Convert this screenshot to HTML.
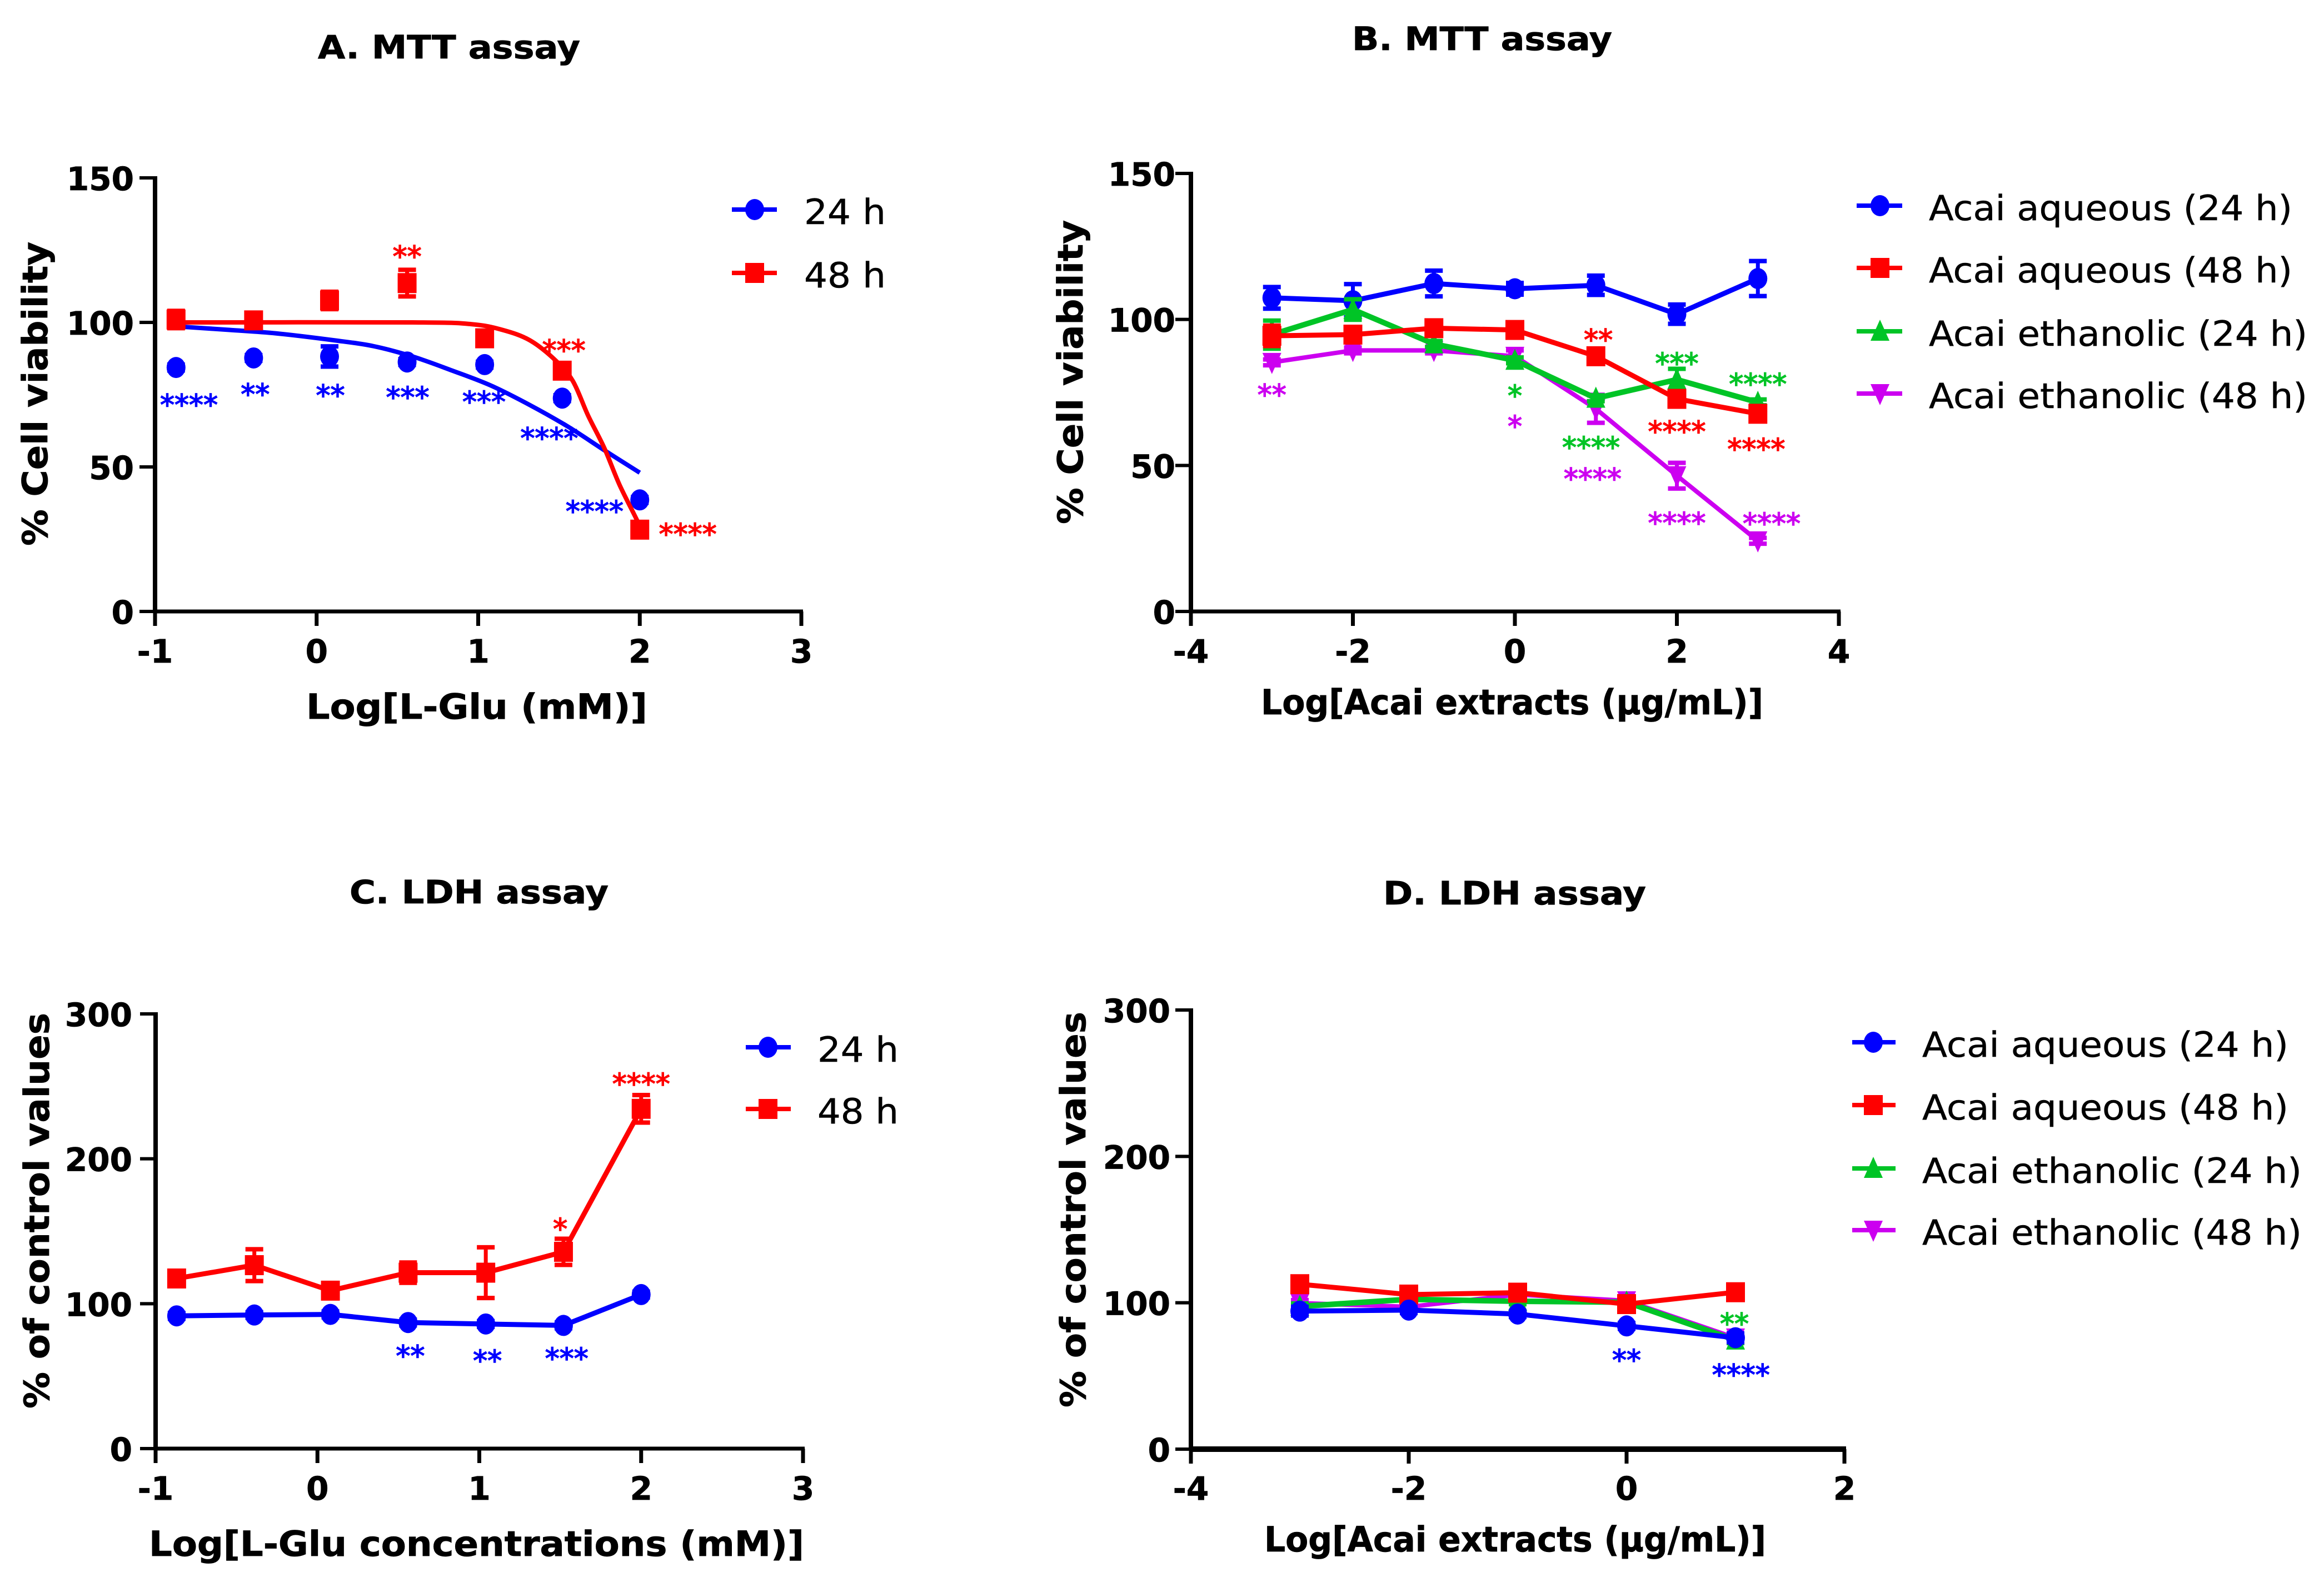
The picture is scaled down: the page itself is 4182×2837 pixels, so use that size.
<!DOCTYPE html>
<html lang="en">
<head>
<meta charset="utf-8">
<title>MTT and LDH assay charts</title>
<style>
html,body{margin:0;padding:0;background:#fff;}
svg{display:block;}
text{font-family:"DejaVu Sans","Liberation Sans",sans-serif;fill:#000;}
.b{font-weight:700;stroke:#000;stroke-width:0.8px;}
</style>
</head>
<body>
<svg id="figure" xmlns="http://www.w3.org/2000/svg" width="4182" height="2837" viewBox="0 0 4182 2837">
  <rect x="0" y="0" width="4182" height="2837" fill="#fff"/>
  <text class="b" x="572" y="105" font-size="58" textLength="472" lengthAdjust="spacingAndGlyphs">A. MTT assay</text>
  <text class="b" x="2433" y="90" font-size="58" textLength="468" lengthAdjust="spacingAndGlyphs">B. MTT assay</text>
  <text class="b" x="629" y="1625" font-size="58" textLength="466" lengthAdjust="spacingAndGlyphs">C. LDH assay</text>
  <text class="b" x="2489" y="1627" font-size="58" textLength="473" lengthAdjust="spacingAndGlyphs">D. LDH assay</text>

  <text class="b" transform="translate(85 982) rotate(-90)" font-size="62" textLength="547" lengthAdjust="spacingAndGlyphs">% Cell viability</text>
  <text class="b" transform="translate(1948 943) rotate(-90)" font-size="62" textLength="547" lengthAdjust="spacingAndGlyphs">% Cell viability</text>
  <text class="b" transform="translate(88 2534) rotate(-90)" font-size="62" textLength="712" lengthAdjust="spacingAndGlyphs">% of control values</text>
  <text class="b" transform="translate(1953 2532) rotate(-90)" font-size="62" textLength="712" lengthAdjust="spacingAndGlyphs">% of control values</text>

  <text class="b" x="551" y="1293" font-size="62" textLength="614" lengthAdjust="spacingAndGlyphs">Log[L-Glu (mM)]</text>
  <text class="b" x="2269" y="1285" font-size="62" textLength="904" lengthAdjust="spacingAndGlyphs">Log[Acai extracts (µg/mL)]</text>
  <text class="b" x="268" y="2799" font-size="62" textLength="1179" lengthAdjust="spacingAndGlyphs">Log[L-Glu concentrations (mM)]</text>
  <text class="b" x="2275" y="2791" font-size="62" textLength="903" lengthAdjust="spacingAndGlyphs">Log[Acai extracts (µg/mL)]</text>
</svg>
<script>
/* ---------- Panel A data ---------- */
const gluDosesA = [-0.87, -0.39, 0.08, 0.56, 1.04, 1.52, 2.0];
const viabilityA24 = [84.4, 87.7, 88.2, 86.3, 85.4, 73.8, 38.6];
const viabilityA24Err = [1, 1, 3.5, 1, 1, 1, 1];
const viabilityA48 = [101, 100.7, 107.6, 113.6, 94.5, 83.3, 28.3];
const viabilityA48Err = [3, 1, 3, 4.6, 2, 2, 1];
const fitA24X = [-0.862, -0.54, -0.25, 0.11, 0.35, 0.594, 0.836, 1.077, 1.32, 1.56, 1.78, 2.0];
const fitA24Y = [98.6, 97.4, 96.2, 93.8, 91.8, 88.2, 83.4, 78.2, 71.4, 63.8, 55.8, 48];
const fitA48X = [-0.862, 0.594, 0.956, 1.15, 1.32, 1.476, 1.585, 1.68, 1.78, 1.874, 1.98, 2.0];
const fitA48Y = [100, 100, 99.4, 97.4, 93.8, 87, 79.8, 67.8, 56.6, 43.9, 31.9, 29];
const starsAText = ['****', '**', '**', '***', '***', '****', '****', '**', '***', '****'];
const starsAX = [-0.79, -0.38, 0.085, 0.563, 1.036, 1.44, 1.72, 0.56, 1.53, 2.297];
const starsAY = [73.4, 77, 76.6, 76, 74.4, 61.8, 36.5, 124.7, 92.2, 28.7];
const starsASeries = ['aq24', 'aq24', 'aq24', 'aq24', 'aq24', 'aq24', 'aq24', 'aq48', 'aq48', 'aq48'];

/* ---------- Panel B data ---------- */
const acaiDosesB = [-3, -2, -1, 0, 1, 2, 3];
const viabilityBAq24 = [107.4, 106.4, 112.3, 110.5, 111.7, 101.8, 114];
const viabilityBAq24Err = [3.7, 5.7, 4.4, 2, 3.3, 3.3, 6];
const viabilityBAq48 = [94.4, 94.8, 97, 96.4, 87.4, 72.8, 67.7];
const viabilityBAq48Err = [3.5, 2.5, 1, 2, 1, 1, 1];
const viabilityBEt24 = [94.8, 103.4, 91.6, 86, 73, 79.4, 71.6];
const viabilityBEt24Err = [4.8, 3.5, 1, 1, 1, 3.7, 1];
const viabilityBEt48 = [85.3, 89.4, 89.4, 87.4, 69.4, 46.5, 24.2];
const viabilityBEt48Err = [1, 1, 1, 2, 4.8, 4.4, 1];
const starsBText = ['**', '*', '*', '**', '***', '****', '****', '****', '****', '****', '****', '****'];
const starsBX = [-3, 0, 0, 1.03, 2, 3, 0.94, 0.96, 2, 2.98, 2, 3.17];
const starsBY = [76, 75.8, 65.3, 94.9, 86.8, 79.8, 58.1, 47.3, 63.5, 57.5, 32.2, 32];
const starsBSeries = ['et48', 'et24', 'et48', 'aq48', 'et24', 'et24', 'et24', 'et48', 'aq48', 'aq48', 'et48', 'et48'];

/* ---------- Panel C data ---------- */
const gluDosesC = [-0.87, -0.39, 0.08, 0.56, 1.04, 1.52, 2.0];
const ldhC24 = [91.6, 92.2, 92.6, 87, 86, 85, 106.3];
const ldhC24Err = [2, 2, 2, 2, 2, 2, 2];
const ldhC48 = [117.4, 126.6, 109, 121.4, 121.4, 135.8, 234.5];
const ldhC48Err = [3, 11, 3, 7, 17.5, 9, 9.5];
const starsCText = ['**', '**', '***', '*', '****'];
const starsCX = [0.574, 1.05, 1.54, 1.5, 2];
const starsCY = [67.7, 64.4, 66, 155.4, 255.5];
const starsCSeries = ['aq24', 'aq24', 'aq24', 'aq48', 'aq48'];

/* ---------- Panel D data ---------- */
const acaiDosesD = [-3, -2, -1, 0, 1];
const ldhDAq24 = [94.3, 95, 92.3, 84.2, 76.1];
const ldhDAq24Err = [3, 2, 2, 2, 3];
const ldhDAq48 = [112.7, 105.6, 106.9, 99.1, 107.2];
const ldhDAq48Err = [3, 3, 3, 3, 3];
const ldhDEt24 = [97.5, 102.4, 101, 100.4, 74.5];
const ldhDEt24Err = [2, 2, 2, 2, 2];
const ldhDEt48 = [99.8, 97.2, 105.6, 101.4, 76];
const ldhDEt48Err = [2, 2, 2, 2, 2];
const starsDText = ['**', '**', '****'];
const starsDX = [0.99, 0, 1.05];
const starsDY = [89.4, 64.5, 54.4];
const starsDSeries = ['et24', 'aq24', 'aq24'];

/* ---------- Axis ticks and legends ---------- */
const ticksXGlu = [-1, 0, 1, 2, 3];
const ticksXAcaiB = [-4, -2, 0, 2, 4];
const ticksXAcaiD = [-4, -2, 0, 2];
const ticksYViability = [0, 50, 100, 150];
const ticksYLdh = [0, 100, 200, 300];
const legendTime = ['24 h', '48 h'];
const legendExtract = ['Acai aqueous (24 h)', 'Acai aqueous (48 h)', 'Acai ethanolic (24 h)', 'Acai ethanolic (48 h)'];

const SVGNS = 'http://www.w3.org/2000/svg';
const root = document.getElementById('figure');
const COLORS = { aq24: '#0000ff', aq48: '#ff0000', et24: '#00c426', et48: '#cc00f0' };
const SHAPES = { aq24: 'circle', aq48: 'square', et24: 'up', et48: 'down' };

function shape(tag, attrs, name, parent) {
  const node = document.createElementNS(SVGNS, tag);
  for (const key in attrs) node.setAttribute(key, attrs[key]);
  
  
  (parent || root).appendChild(node);
  return node;
}

function group(name) {
  return shape('g', {}, name);
}

function makePanel(id, x0, x1, dx0, dx1, y0, y1, dy1, labelRight, xLabelBase, xAxisWidth) {
  return {
    id: id, x0: x0, x1: x1, y0: y0, y1: y1, labelRight: labelRight, xLabelBase: xLabelBase,
    xAxisWidth: xAxisWidth,
    sx: function (v) { return x0 + (v - dx0) / (dx1 - dx0) * (x1 - x0); },
    sy: function (v) { return y0 - v / dy1 * (y0 - y1); }
  };
}

function drawAxes(p, xTicks, yTicks) {
  const g = group('panel-' + p.id + '-axes');
  shape('line', { x1: p.x0, x2: p.x0, y1: p.y1 - 3, y2: p.y0 + 3, stroke: '#000', 'stroke-width': 8 }, 'panel-' + p.id + '-y-axis', g);
  shape('line', { x1: p.x0 - 3, x2: p.x1 + 3, y1: p.y0, y2: p.y0, stroke: '#000', 'stroke-width': p.xAxisWidth }, 'panel-' + p.id + '-x-axis', g);
  xTicks.forEach(function (t) {
    const x = p.sx(t);
    shape('line', { x1: x, x2: x, y1: p.y0, y2: p.y0 + 26, stroke: '#000', 'stroke-width': 7 }, 'panel-' + p.id + '-x-tick', g);
    const label = shape('text', { x: x, y: p.xLabelBase, 'font-size': 58, 'text-anchor': 'middle', class: 'b' }, 'panel-' + p.id + '-x-tick-label', g);
    label.textContent = String(t);
  });
  yTicks.forEach(function (t) {
    const y = p.sy(t);
    shape('line', { x1: p.x0 - 28, x2: p.x0, y1: y, y2: y, stroke: '#000', 'stroke-width': 6 }, 'panel-' + p.id + '-y-tick', g);
    const label = shape('text', { x: p.labelRight, y: y + 22, 'font-size': 58, 'text-anchor': 'end', class: 'b' }, 'panel-' + p.id + '-y-tick-label', g);
    label.textContent = String(t);
  });
}

function marker(kind, x, y, color, name, parent) {
  const r = 17;
  if (kind === 'circle') {
    shape('ellipse', { cx: x, cy: y, rx: r, ry: r + 2, fill: color }, name, parent);
  } else if (kind === 'square') {
    shape('rect', { x: x - r, y: y - r - 1, width: 2 * r, height: 2 * r + 2, fill: color }, name, parent);
  } else if (kind === 'up') {
    shape('polygon', { points: (x - r) + ',' + (y + r) + ' ' + (x + r) + ',' + (y + r) + ' ' + x + ',' + (y - r - 4), fill: color }, name, parent);
  } else {
    shape('polygon', { points: (x - r) + ',' + (y - r) + ' ' + (x + r) + ',' + (y - r) + ' ' + x + ',' + (y + r + 4), fill: color }, name, parent);
  }
}

function drawSeries(p, key, xs, ys, errs, connect, width) {
  const color = COLORS[key];
  const base = 'panel-' + p.id + '-' + key;
  const g = group(base + '-series');
  if (connect) {
    const pts = xs.map(function (x, i) { return p.sx(x) + ',' + p.sy(ys[i]); }).join(' ');
    shape('polyline', { points: pts, fill: 'none', stroke: color, 'stroke-width': width, 'stroke-linejoin': 'round' }, base + '-line', g);
  }
  xs.forEach(function (x, i) {
    const px = p.sx(x);
    const top = p.sy(ys[i] + errs[i]);
    const bottom = p.sy(ys[i] - errs[i]);
    shape('line', { x1: px, x2: px, y1: top, y2: bottom, stroke: color, 'stroke-width': 7 }, base + '-error-bar', g);
    shape('line', { x1: px - 16, x2: px + 16, y1: top, y2: top, stroke: color, 'stroke-width': 8 }, base + '-error-cap', g);
    shape('line', { x1: px - 16, x2: px + 16, y1: bottom, y2: bottom, stroke: color, 'stroke-width': 8 }, base + '-error-cap', g);
    marker(SHAPES[key], px, p.sy(ys[i]), color, base + '-point', g);
  });
}

function drawFit(p, key, xs, ys) {
  const px = xs.map(p.sx);
  const py = ys.map(p.sy);
  let d = 'M' + px[0] + ' ' + py[0];
  for (let i = 0; i < px.length - 1; i++) {
    const a = Math.max(i - 1, 0);
    const b = Math.min(i + 2, px.length - 1);
    d += ' C' + (px[i] + (px[i + 1] - px[a]) / 6) + ' ' + (py[i] + (py[i + 1] - py[a]) / 6) + ' ' +
      (px[i + 1] - (px[b] - px[i]) / 6) + ' ' + (py[i + 1] - (py[b] - py[i]) / 6) + ' ' + px[i + 1] + ' ' + py[i + 1];
  }
  shape('path', { d: d, fill: 'none', stroke: COLORS[key], 'stroke-width': 8 }, 'panel-' + p.id + '-' + key + '-fit-curve');
}

function drawStars(p, texts, xs, ys, series) {
  const g = group('panel-' + p.id + '-significance-marks');
  texts.forEach(function (t, i) {
    const c = COLORS[series[i]];
    const label = shape('text', { x: p.sx(xs[i]), y: p.sy(ys[i]) + 28, 'font-size': 52, 'text-anchor': 'middle', style: 'fill:' + c + ';stroke:' + c + ';stroke-width:1.6px' }, 'significance-stars', g);
    label.textContent = t;
  });
}

function drawLegend(id, labels, keys, lineX0, lineX1, markerX, textX, widths, yRows) {
  const g = group('panel-' + id + '-legend');
  labels.forEach(function (t, i) {
    const color = COLORS[keys[i]];
    const entry = shape('g', {}, 'legend-entry', g);
    shape('line', { x1: lineX0, x2: lineX1, y1: yRows[i], y2: yRows[i], stroke: color, 'stroke-width': 8 }, 'legend-line', entry);
    marker(SHAPES[keys[i]], markerX, yRows[i], color, 'legend-marker', entry);
    const label = shape('text', { x: textX, y: yRows[i] + 26, 'font-size': 62, textLength: widths[i], lengthAdjust: 'spacingAndGlyphs', style: 'stroke:#000;stroke-width:0.5px' }, 'legend-label', entry);
    label.textContent = t;
  });
}

const panelA = makePanel('a', 279, 1442, -1, 3, 1100, 320, 150, 241, 1192, 7);
const panelB = makePanel('b', 2143, 3309, -4, 4, 1100, 312, 150, 2115, 1192, 7);
const panelC = makePanel('c', 280, 1445, -1, 3, 2606, 1824, 300, 238, 2698, 7);
const panelD = makePanel('d', 2143, 3319, -4, 2, 2607, 1817, 300, 2106, 2698, 10);

drawAxes(panelA, ticksXGlu, ticksYViability);
drawAxes(panelB, ticksXAcaiB, ticksYViability);
drawAxes(panelC, ticksXGlu, ticksYLdh);
drawAxes(panelD, ticksXAcaiD, ticksYLdh);

drawFit(panelA, 'aq24', fitA24X, fitA24Y);
drawSeries(panelA, 'aq24', gluDosesA, viabilityA24, viabilityA24Err, false, 8);
drawSeries(panelA, 'aq48', gluDosesA, viabilityA48, viabilityA48Err, false, 8);
drawFit(panelA, 'aq48', fitA48X, fitA48Y);
drawStars(panelA, starsAText, starsAX, starsAY, starsASeries);

drawSeries(panelB, 'aq24', acaiDosesB, viabilityBAq24, viabilityBAq24Err, true, 9);
drawSeries(panelB, 'et48', acaiDosesB, viabilityBEt48, viabilityBEt48Err, true, 8);
drawSeries(panelB, 'et24', acaiDosesB, viabilityBEt24, viabilityBEt24Err, true, 10);
drawSeries(panelB, 'aq48', acaiDosesB, viabilityBAq48, viabilityBAq48Err, true, 9);
drawStars(panelB, starsBText, starsBX, starsBY, starsBSeries);

drawSeries(panelC, 'aq24', gluDosesC, ldhC24, ldhC24Err, true, 9);
drawSeries(panelC, 'aq48', gluDosesC, ldhC48, ldhC48Err, true, 9);
drawStars(panelC, starsCText, starsCX, starsCY, starsCSeries);

drawSeries(panelD, 'et48', acaiDosesD, ldhDEt48, ldhDEt48Err, true, 8);
drawSeries(panelD, 'et24', acaiDosesD, ldhDEt24, ldhDEt24Err, true, 10);
drawSeries(panelD, 'aq48', acaiDosesD, ldhDAq48, ldhDAq48Err, true, 9);
drawSeries(panelD, 'aq24', acaiDosesD, ldhDAq24, ldhDAq24Err, true, 9);
drawStars(panelD, starsDText, starsDX, starsDY, starsDSeries);

drawLegend('a', legendTime, ['aq24', 'aq48'], 1317, 1398, 1358, 1447, [147, 147], [377, 491]);
drawLegend('b', legendExtract, ['aq24', 'aq48', 'et24', 'et48'], 3341, 3423, 3383, 3471, [654, 654, 681, 681], [370, 482, 596, 708]);
drawLegend('c', legendTime, ['aq24', 'aq48'], 1342, 1423, 1382, 1471, [146, 146], [1884, 1995]);
drawLegend('d', legendExtract, ['aq24', 'aq48', 'et24', 'et48'], 3333, 3411, 3371, 3459, [659, 659, 683, 683], [1875, 1988, 2102, 2213]);
</script>
</body>
</html>
